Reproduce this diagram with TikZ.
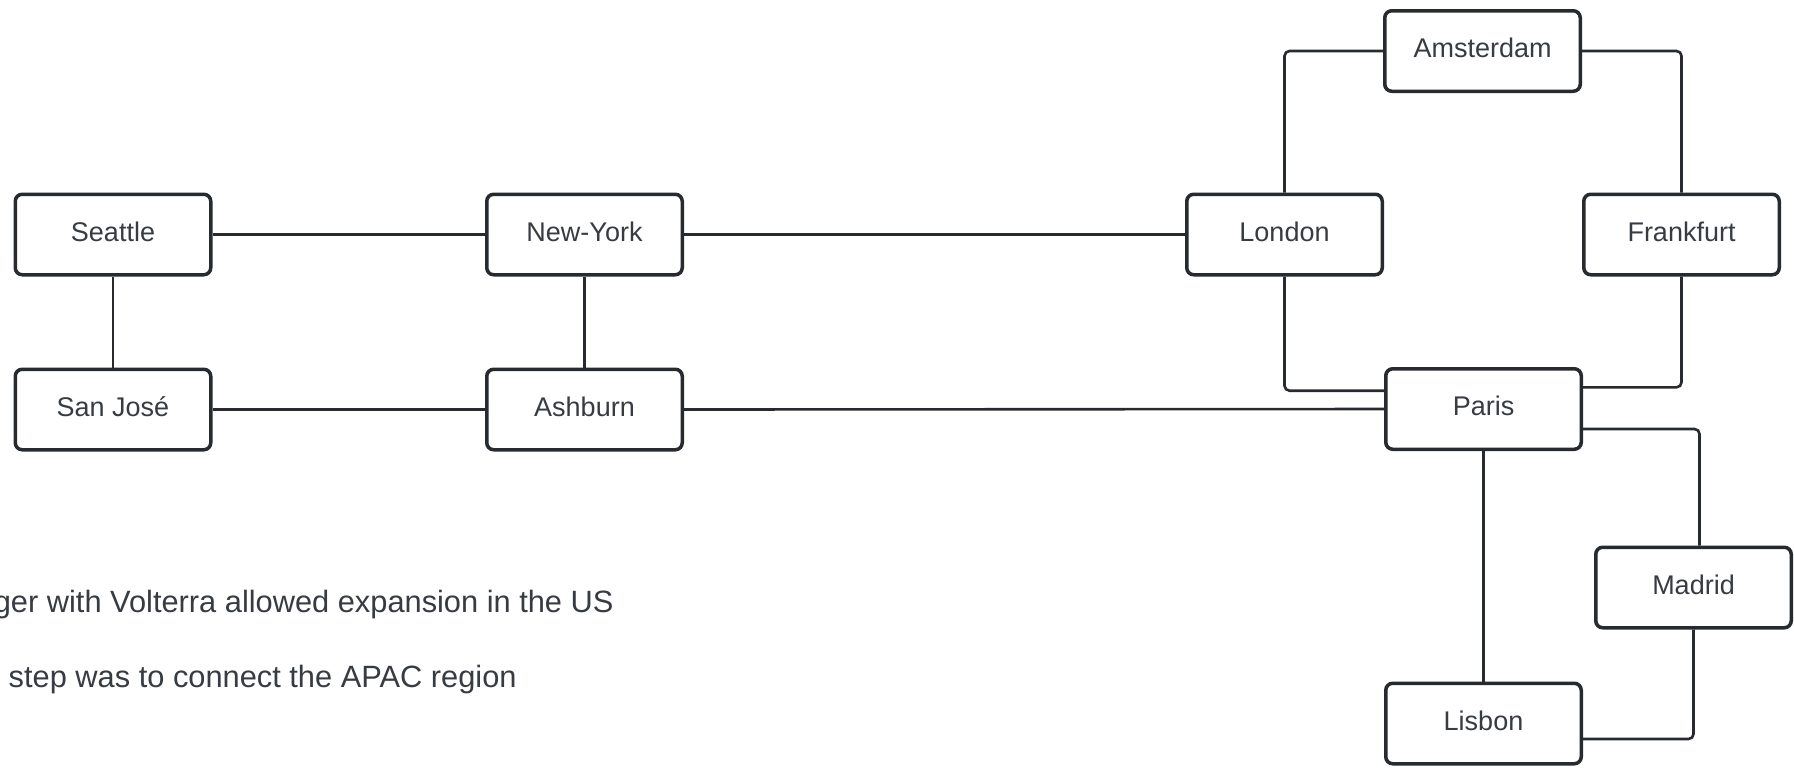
\documentclass[tikz,border=0pt]{standalone}
\usepackage{fontspec}
\setmainfont{Liberation Sans}
\definecolor{edge}{HTML}{272A2F}
\definecolor{ink}{HTML}{373B42}
\begin{document}
\begin{tikzpicture}[x=0.5pt,y=-0.5pt,
  city/.style={draw=edge, line width=1.75pt, fill=white, rounded corners=3.5pt,
    minimum width=97.75pt, minimum height=40.25pt, inner sep=0pt, text=ink,
    font=\fontsize{13.5}{16}\selectfont, text height=10pt, text depth=3.5pt},
  link/.style={draw=edge, line width=1.3pt, rounded corners=2.5pt},
  note/.style={anchor=base east, inner sep=0pt, text=ink,
    font=\fontsize{15.4}{18}\selectfont}]
\useasboundingbox (0,0) rectangle (1794,768);

% node centres
\coordinate (seaC) at (113,234.5);
\coordinate (sjC) at (113,409.5);
\coordinate (nyC) at (584.5,234.5);
\coordinate (ashC) at (584.5,409.5);
\coordinate (lonC) at (1284.5,234.5);
\coordinate (fraC) at (1681.5,234.5);
\coordinate (amsC) at (1482.5,51);
\coordinate (parC) at (1483.5,409);
\coordinate (madC) at (1693.5,587.5);
\coordinate (lisC) at (1483.5,723.5);

% US
\node[city] (seattle) at (seaC) {Seattle};
\node[city] (sanjose) at (sjC) {San José};
\node[city] (newyork) at (nyC) {New-York};
\node[city] (ashburn) at (ashC) {Ashburn};
% Europe
\node[city] (london) at (lonC) {London};
\node[city] (frankfurt) at (fraC) {Frankfurt};
\node[city] (amsterdam) at (amsC) {Amsterdam};
\node[city] (paris) at (parC) {Paris};
\node[city] (madrid) at (madC) {Madrid};
\node[city] (lisbon) at (lisC) {Lisbon};

% links
\draw[link] (seattle.east) -- (newyork.west);
\draw[link] (seattle.south) -- (sanjose.north);
\draw[link] (newyork.south) -- (ashburn.north);
\draw[link] (sanjose.east) -- (ashburn.west);
\draw[link] (newyork.east) -- (london.west);
\draw[link] (ashburn.east) -- (paris.west);
\draw[link] (amsterdam.west) -| (london.north);
\draw[link] (amsterdam.east) -| (frankfurt.north);
\draw[link] (london.south) |- ([yshift=9.15pt]paris.west);
\draw[link] (frankfurt.south) |- ([yshift=10.85pt]paris.east);
\draw[link] ([yshift=-10pt]paris.east) -| ([xshift=3pt]madrid.north);
\draw[link] (paris.south) -- (lisbon.north);
\draw[link] (madrid.south) |- ([yshift=-7.75pt]lisbon.east);

% notes
\node[note] (note1) at (614,612) {ger with Volterra allowed expansion in the US};
\node[note] (note2) at (517,687) {step was to connect the APAC region};
\end{tikzpicture}
\end{document}
